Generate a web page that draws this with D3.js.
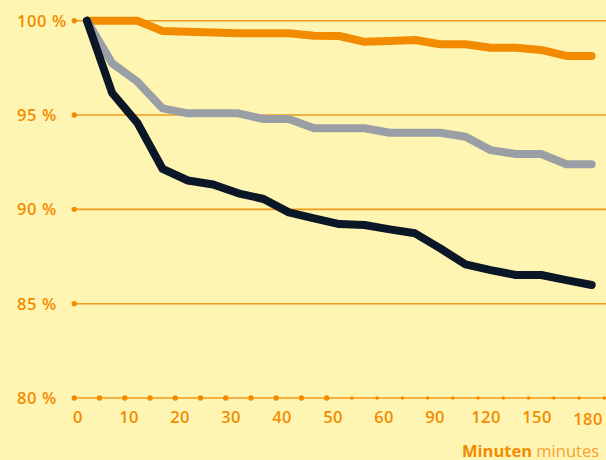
<!DOCTYPE html>
<html>
<head>
<meta charset="utf-8">
<script src="https://cdn.jsdelivr.net/npm/d3@7"></script>
<style>
  html, body { margin: 0; padding: 0; background: #fff5b3; }
  svg { display: block; }
  text { font-family: "Open Sans", sans-serif; }
</style>
</head>
<body>
<svg id="chart" width="606" height="460"></svg>
<script>
// Minutes measured (one band per sample)
const minutes = [0, 5, 10, 15, 20, 25, 30, 35, 40, 45, 50, 55, 60, 75, 90, 105, 120, 135, 150, 165, 180];
// Labelled minutes on the time axis
const tickLabels = [0, 10, 20, 30, 40, 50, 60, 90, 120, 150, 180];
// Percent gridlines
const percentTicks = [80, 85, 90, 95, 100];

// Remaining share (%) per series
const orangeSeries = [100, 100, 100, 99.45, 99.42, 99.38, 99.33, 99.33, 99.33, 99.2, 99.19, 98.88, 98.92, 98.98, 98.75, 98.75, 98.57, 98.57, 98.45, 98.13, 98.13];
const greySeries   = [100, 97.74, 96.77, 95.35, 95.09, 95.09, 95.09, 94.79, 94.79, 94.3, 94.3, 94.3, 94.06, 94.06, 94.06, 93.85, 93.14, 92.93, 92.93, 92.39, 92.39];
const darkSeries   = [100, 96.17, 94.58, 92.14, 91.53, 91.32, 90.85, 90.55, 89.84, 89.52, 89.22, 89.17, 88.94, 88.73, 87.93, 87.08, 86.78, 86.52, 86.52, 86.25, 85.99];

const ORANGE = "#f28b00";
const GRID = "#f39a1c";

const svg = d3.select("#chart");
svg.append("rect").attr("width", 606).attr("height", 460).attr("fill", "#fff5b3");

const x = d3.scaleBand().domain(minutes).range([74.3, 604.3]).padding(0);
const xLabel = d3.scalePoint().domain(tickLabels).range([78, 588]);
const y = d3.scaleLinear().domain([80, 100]).range([398, 20.7]);

const [x0, x1] = x.range();

// Horizontal gridlines with a dot at their start
const grid = svg.append("g");
grid.selectAll("line").data(percentTicks).join("line")
  .attr("x1", x0).attr("x2", 606)
  .attr("y1", d => y(d)).attr("y2", d => y(d))
  .attr("stroke", GRID).attr("stroke-width", 1.6);
grid.selectAll("circle").data(percentTicks.filter(d => d !== 80)).join("circle")
  .attr("cx", x0).attr("cy", d => y(d)).attr("r", 2.7).attr("fill", ORANGE);

// Percent labels, left aligned
svg.append("g").selectAll("text").data(percentTicks).join("text")
  .attr("x", 17).attr("y", d => y(d)).attr("dy", "0.36em")
  .attr("text-anchor", "start")
  .attr("fill", ORANGE).attr("font-size", 16.5).attr("font-weight", 600)
  .attr("letter-spacing", 0.6)
  .text(d => d + " %");

// Dots on the base axis at every band edge
const edges = minutes.map(m => x(m)).concat([x1]);
svg.append("g").selectAll("circle").data(edges).join("circle")
  .attr("cx", d => d).attr("cy", y(80))
  .attr("r", (d, i) => i <= 10 ? 2.7 : 1.8)
  .attr("fill", ORANGE);

// Time labels
svg.append("g").selectAll("text").data(tickLabels).join("text")
  .attr("x", d => xLabel(d)).attr("y", d => d === 180 ? 425 : 423)
  .attr("text-anchor", "middle")
  .attr("fill", ORANGE).attr("font-size", 16.5).attr("font-weight", 600)
  .attr("letter-spacing", 0.4)
  .text(d => d);

// Axis title
const title = svg.append("text").attr("x", 462).attr("y", 456.5)
  .attr("font-size", 16.5).attr("fill", ORANGE);
title.append("tspan").attr("font-weight", 700).text("Minuten");
title.append("tspan").attr("font-weight", 400).attr("fill", "#f4a232").text(" minutes");

// Series lines
const line = d3.line()
  .x((d, i) => x(minutes[i]) + x.bandwidth() / 2)
  .y(d => y(d));

const series = [
  { values: orangeSeries, color: "#f28b00" },
  { values: greySeries, color: "#9a9ea5" },
  { values: darkSeries, color: "#0b1626" }
];
svg.append("g").selectAll("path").data(series).join("path")
  .attr("d", d => line(d.values))
  .attr("fill", "none")
  .attr("stroke", d => d.color)
  .attr("stroke-width", 8)
  .attr("stroke-linejoin", "round")
  .attr("stroke-linecap", "round");
</script>
</body>
</html>
